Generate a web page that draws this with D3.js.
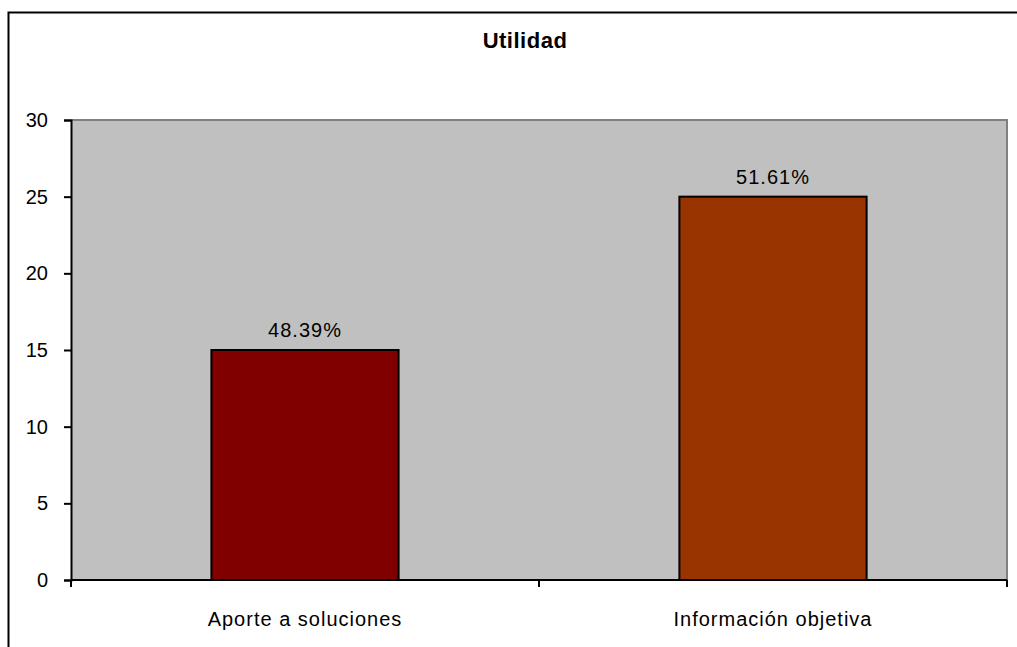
<!DOCTYPE html>
<html>
<head>
<meta charset="utf-8">
<script src="https://cdn.jsdelivr.net/npm/d3@7"></script>
<style>
  html, body { margin: 0; padding: 0; background: #fff; }
  svg { display: block; font-family: "Liberation Sans", Arial, sans-serif; }
</style>
</head>
<body>
<svg id="chart" width="1017" height="647"></svg>
<script>
const title = "Utilidad";
const categories = ["Aporte a soluciones", "Información objetiva"];
const values = [15, 25];
const percentLabels = ["48.39%", "51.61%"];
const barColors = ["#800000", "#993300"];
const yTicks = [0, 5, 10, 15, 20, 25, 30];

const svg = d3.select("#chart");
const plot = { left: 71, top: 120, right: 1007, bottom: 580 };

// outer chart border
svg.append("rect")
  .attr("x", 8.5).attr("y", 12.5)
  .attr("width", 1100).attr("height", 700)
  .attr("fill", "none").attr("stroke", "#000").attr("stroke-width", 2);

// title
svg.append("text")
  .attr("x", 525).attr("y", 48)
  .attr("text-anchor", "middle")
  .attr("font-size", 22).attr("font-weight", "bold")
  .attr("letter-spacing", 0.5)
  .text(title);

const x = d3.scaleBand().domain(categories).range([plot.left, plot.right]).padding(0);
const y = d3.scaleLinear().domain([0, 30]).range([plot.bottom, plot.top]);

// plot area
svg.append("rect")
  .attr("x", plot.left).attr("y", plot.top)
  .attr("width", plot.right - plot.left).attr("height", plot.bottom - plot.top)
  .attr("fill", "#C0C0C0");
// gray border top & right
svg.append("path")
  .attr("d", `M${plot.left},${plot.top} H${plot.right} V${plot.bottom}`)
  .attr("fill", "none").attr("stroke", "#808080").attr("stroke-width", 2);

// bars
const bw = x.bandwidth() * 0.4;
svg.selectAll("rect.bar").data(categories).join("rect")
  .attr("class", "bar")
  .attr("x", (d) => x(d) + x.bandwidth() / 2 - bw / 2)
  .attr("y", (d, i) => y(values[i]))
  .attr("width", bw)
  .attr("height", (d, i) => y(0) - y(values[i]))
  .attr("fill", (d, i) => barColors[i])
  .attr("stroke", "#000").attr("stroke-width", 2);

// percent labels
svg.selectAll("text.pct").data(categories).join("text")
  .attr("class", "pct")
  .attr("x", (d) => x(d) + x.bandwidth() / 2)
  .attr("y", (d, i) => y(values[i]) - 13)
  .attr("text-anchor", "middle")
  .attr("font-size", 20).attr("letter-spacing", 1)
  .attr("fill", "#000")
  .text((d, i) => percentLabels[i]);

// y axis
const yAxis = d3.axisLeft(y).tickValues(yTicks).tickSize(7).tickPadding(16);
const gy = svg.append("g").attr("transform", `translate(${plot.left},0)`).call(yAxis);
gy.select(".domain").attr("stroke", "#000").attr("stroke-width", 2);
gy.selectAll(".tick line").attr("stroke", "#000").attr("stroke-width", 2);
gy.selectAll(".tick text").attr("font-size", 20).attr("font-family", "Liberation Sans, Arial, sans-serif").attr("fill", "#000");

// x axis
const gx = svg.append("g").attr("transform", `translate(0,${plot.bottom})`);
gx.append("line")
  .attr("x1", plot.left).attr("x2", plot.right)
  .attr("stroke", "#000").attr("stroke-width", 2);
const boundaries = [plot.left, ...categories.map((d) => x(d) + x.bandwidth())];
gx.selectAll("line.tk").data(boundaries).join("line")
  .attr("class", "tk")
  .attr("x1", (d) => d).attr("x2", (d) => d)
  .attr("y1", 0).attr("y2", 7)
  .attr("stroke", "#000").attr("stroke-width", 2);
gx.selectAll("text.cat").data(categories).join("text")
  .attr("class", "cat")
  .attr("x", (d) => x(d) + x.bandwidth() / 2)
  .attr("y", 46)
  .attr("text-anchor", "middle")
  .attr("font-size", 20).attr("letter-spacing", 1)
  .attr("fill", "#000")
  .text((d) => d);
</script>
</body>
</html>
